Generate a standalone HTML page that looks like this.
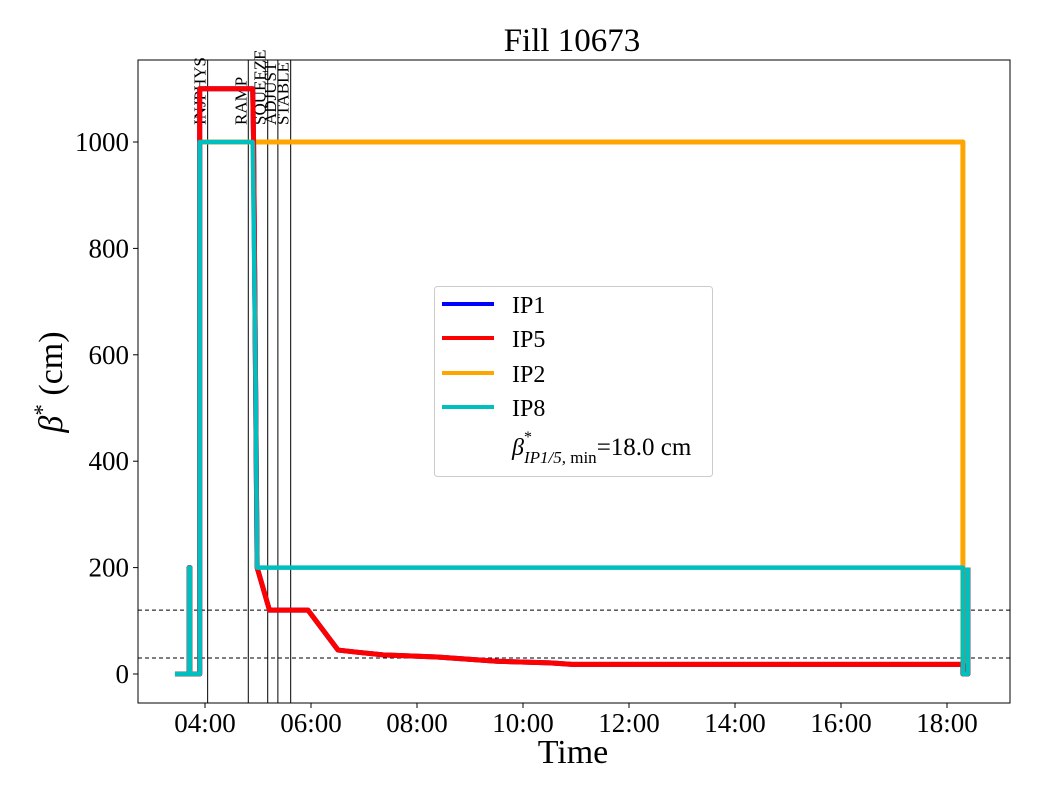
<!DOCTYPE html>
<html><head><meta charset="utf-8"><style>
body{margin:0;background:#fff;}
svg{display:block;font-family:"Liberation Serif",serif;}
</style></head><body>
<svg id="c" width="1040" height="800"></svg>
<script>
const xTickMinutes=[240,360,480,600,720,840,960,1080];
const xTickLabels=["04:00","06:00","08:00","10:00","12:00","14:00","16:00","18:00"];
const yTicks=[0,200,400,600,800,1000];
const phaseNames=["INJPHYS","RAMP","SQUEEZE","ADJUST","STABLE"];
const phaseTimes=[243,289,311,322.5,337];
const refLevels=[120,30];
const ip5Times=[206,222,222,223,223,234,234,294,295,297,299,313,356.6,390.6,412,441.5,502.6,536.6,570.5,630.6,655.5,1098,1098,1103.7,1103.7];
const ip5Values=[0,0,200,200,0,0,1100,1100,1000,600,200,120,120,45,41,36,32,28,24,21,18,18,0,0,200];
const ip2Times=[234,1098,1098,1103.7];
const ip2Values=[1000,1000,0,0];
const ip8Times=[206,222,222,223,223,234,234,294,297,299,1098,1098,1103.7,1103.7];
const ip8Values=[0,0,200,200,0,0,1000,1000,600,200,200,0,0,200];

const L=138,R=1010,T=60,B=703;
const X=t=>205+(t-240)*53/60;
const Y=v=>674-v*0.532;
const svg=document.getElementById('c');
const NS='http://www.w3.org/2000/svg';
function mk(tag,attrs,parent){const e=document.createElementNS(NS,tag);for(const k in attrs)e.setAttribute(k,attrs[k]);(parent||svg).appendChild(e);return e;}

phaseTimes.forEach((t,i)=>{
  const l=mk('line',{x1:X(t),x2:X(t),y1:T,y2:B,stroke:'#000','stroke-width':1});
  
  
  const tx=mk('text',{x:0,y:0,'font-size':17,'text-anchor':'start',transform:`translate(${X(t)-2},125) rotate(-90)`});
  tx.textContent=phaseNames[i];
  
  
});
refLevels.forEach(v=>{
  const l=mk('line',{x1:L,x2:R,y1:Y(v),y2:Y(v),stroke:'#000','stroke-width':1,'stroke-dasharray':'4,3'});
  
  
});
function series(ts,vs,color,name,w){
  const p=mk('polyline',{points:ts.map((t,i)=>X(t)+','+Y(vs[i])).join(' '),fill:'none',stroke:color,'stroke-width':w,'stroke-linejoin':'round'});
  
  
}
series(ip5Times,ip5Values,'#0000ff','series-ip1',5);
series(ip2Times,ip2Values,'#ffa500','series-ip2',5);
series(ip5Times,ip5Values,'#ff0000','series-ip5',5);
series(ip8Times,ip8Values,'#00bfbf','series-ip8',4.5);

const f=mk('rect',{x:L,y:T,width:R-L,height:B-T,fill:'none',stroke:'#000','stroke-width':1});


xTickMinutes.forEach((t,i)=>{
  const tk=mk('line',{x1:X(t),x2:X(t),y1:B,y2:B+5,stroke:'#000'});
  
  
  const tx=mk('text',{x:X(t),y:B+29,'font-size':27,'text-anchor':'middle'});
  tx.textContent=xTickLabels[i];
  
  
});
yTicks.forEach(v=>{
  const tk=mk('line',{x1:L-5,x2:L,y1:Y(v),y2:Y(v),stroke:'#000'});
  
  
  const tx=mk('text',{x:L-9,y:Y(v)+9,'font-size':27,'text-anchor':'end'});
  tx.textContent=v;
  
  
});
</script>
<svg style="position:absolute;left:0;top:0" width="1040" height="800">
<text x="572" y="51" font-size="33" text-anchor="middle" font-family="Liberation Serif,serif">Fill 10673</text>
<text x="573" y="763" font-size="34" text-anchor="middle" font-family="Liberation Serif,serif">Time</text>
<text transform="translate(62,382) rotate(-90)" font-size="34" text-anchor="middle" font-family="Liberation Serif,serif"><tspan font-style="italic">β</tspan><tspan dy="-12" font-size="23">*</tspan><tspan dy="12"> (cm)</tspan></text>
<g font-family="Liberation Serif,serif" font-size="24">
<rect x="434.5" y="286.5" width="278" height="190" rx="3" fill="#fff" fill-opacity="0.8" stroke="#ccc"/>
<line x1="442" x2="494" y1="304" y2="304" stroke="#0000ff" stroke-width="4"/>
<text x="512" y="313">IP1</text>
<line x1="442" x2="494" y1="338" y2="338" stroke="#ff0000" stroke-width="4"/>
<text x="512" y="347">IP5</text>
<line x1="442" x2="494" y1="373" y2="373" stroke="#ffa500" stroke-width="4"/>
<text x="512" y="382">IP2</text>
<line x1="442" x2="494" y1="407" y2="407" stroke="#00bfbf" stroke-width="4"/>
<text x="512" y="416">IP8</text>
<text x="512" y="455"><tspan font-style="italic">β</tspan><tspan dy="-13" font-size="16">*</tspan><tspan dx="-8" dy="21" font-size="17" font-style="italic">IP1/5,</tspan><tspan font-size="17"> min</tspan><tspan dy="-8" font-size="25">=18.0 cm</tspan></text>
</g>
</svg>
</body></html>
